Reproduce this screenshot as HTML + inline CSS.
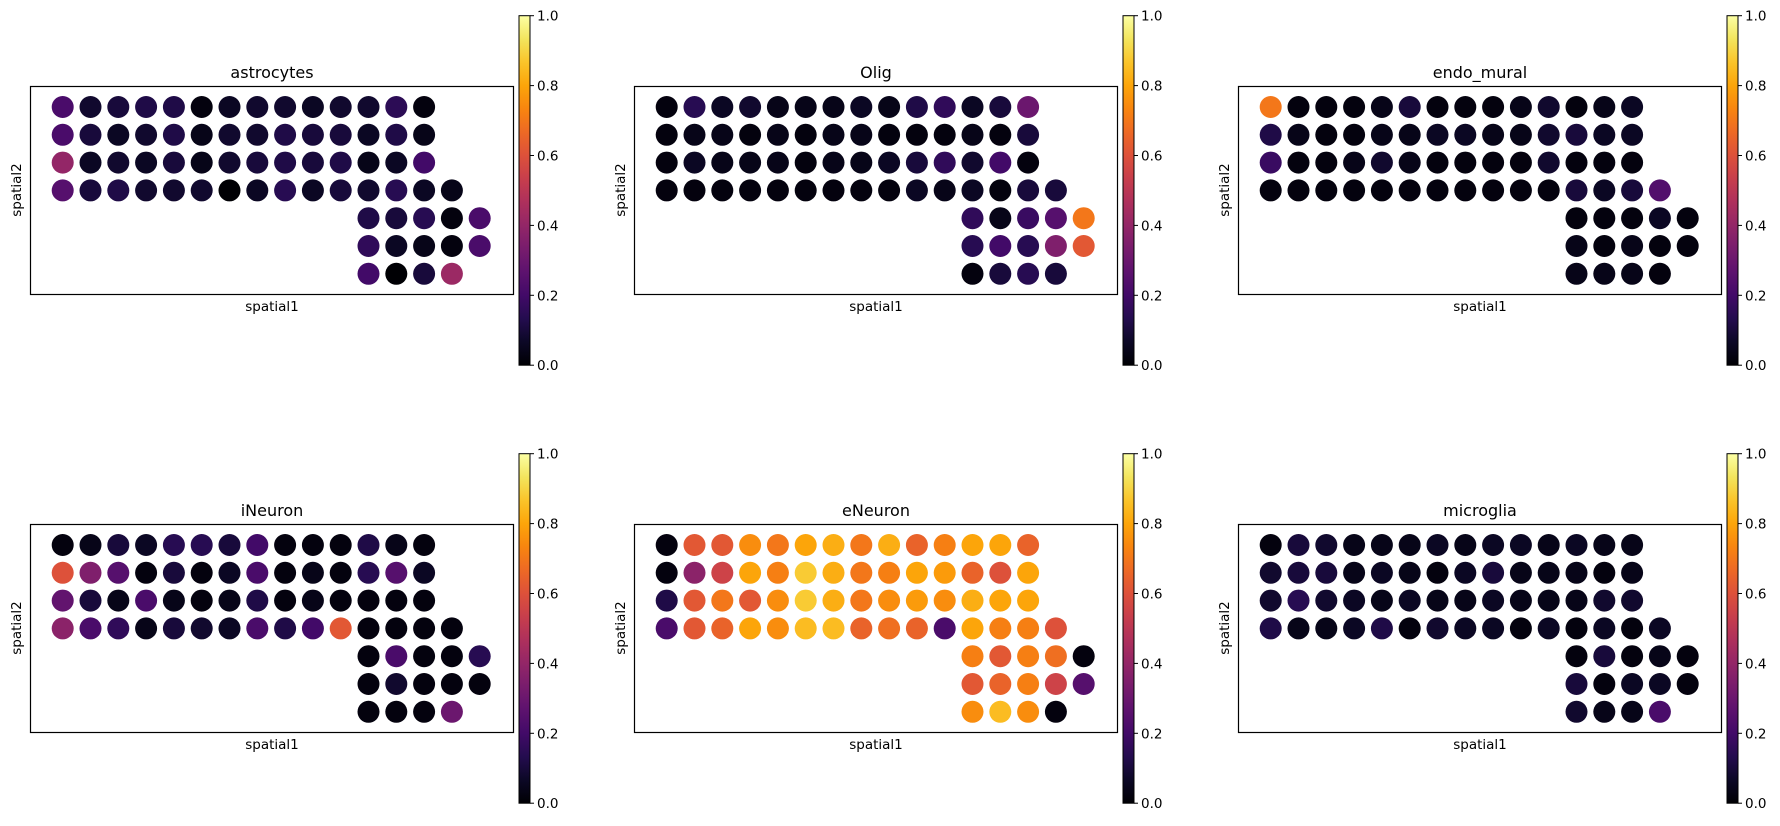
<!DOCTYPE html>
<html><head><meta charset="utf-8"><style>
html,body{margin:0;padding:0;background:#fff}
svg text{font-family:"DejaVu Sans","Liberation Sans",sans-serif;fill:#000}
</style></head><body>
<svg id="fig" width="1780" height="821" viewBox="0 0 1780 821" xmlns="http://www.w3.org/2000/svg"></svg>
<script>
// ---- data ----
const panelTitles = ["astrocytes","Olig","endo_mural","iNeuron","eNeuron","microglia"];
const rowStarts = [0,0,0,0,11,11,11];
const colorbarTicks = [0.0,0.2,0.4,0.6,0.8,1.0];
const tickLabels = ["0.0","0.2","0.4","0.6","0.8","1.0"];
const astrocytes = [
[0.22,0.08,0.1,0.12,0.12,0.02,0.06,0.08,0.08,0.06,0.08,0.08,0.15,0.02],
[0.22,0.1,0.06,0.08,0.12,0.04,0.08,0.08,0.12,0.1,0.1,0.06,0.12,0.04],
[0.4,0.06,0.08,0.06,0.1,0.04,0.08,0.1,0.12,0.1,0.12,0.04,0.06,0.2],
[0.25,0.1,0.12,0.08,0.08,0.08,0.0,0.06,0.14,0.06,0.1,0.08,0.14,0.06,0.04],
[0.12,0.1,0.14,0.02,0.22],
[0.16,0.06,0.04,0.02,0.22],
[0.2,0.0,0.1,0.42]];
const olig = [
[0.02,0.14,0.06,0.08,0.04,0.04,0.04,0.06,0.04,0.12,0.16,0.06,0.1,0.3],
[0.02,0.04,0.04,0.02,0.04,0.02,0.04,0.04,0.02,0.02,0.02,0.04,0.02,0.1],
[0.02,0.06,0.04,0.04,0.04,0.02,0.04,0.04,0.06,0.1,0.16,0.08,0.2,0.02],
[0.02,0.02,0.02,0.02,0.02,0.02,0.02,0.02,0.02,0.06,0.04,0.06,0.02,0.1,0.1],
[0.16,0.04,0.18,0.25,0.7],
[0.14,0.2,0.14,0.35,0.62],
[0.02,0.1,0.14,0.1]];
const endoMural = [
[0.7,0.02,0.02,0.02,0.04,0.1,0.02,0.02,0.02,0.04,0.08,0.02,0.04,0.06],
[0.12,0.04,0.02,0.02,0.04,0.04,0.06,0.06,0.04,0.04,0.08,0.1,0.06,0.06],
[0.18,0.02,0.02,0.04,0.08,0.04,0.02,0.02,0.02,0.02,0.08,0.02,0.02,0.02],
[0.02,0.02,0.02,0.02,0.02,0.02,0.02,0.02,0.02,0.02,0.02,0.1,0.06,0.1,0.24],
[0.02,0.02,0.02,0.06,0.02],
[0.04,0.02,0.04,0.02,0.02],
[0.04,0.04,0.04,0.02]];
const iNeuron = [
[0.02,0.04,0.1,0.06,0.14,0.14,0.1,0.2,0.02,0.02,0.02,0.12,0.04,0.02],
[0.6,0.35,0.25,0.02,0.1,0.02,0.06,0.22,0.02,0.04,0.02,0.14,0.25,0.06],
[0.28,0.1,0.04,0.22,0.04,0.02,0.04,0.12,0.02,0.04,0.02,0.02,0.02,0.02],
[0.38,0.22,0.16,0.04,0.1,0.08,0.06,0.22,0.12,0.2,0.62,0.02,0.02,0.02,0.02],
[0.02,0.22,0.02,0.02,0.14],
[0.02,0.08,0.02,0.02,0.02],
[0.02,0.02,0.02,0.3]];
const eNeuron = [
[0.02,0.62,0.62,0.75,0.7,0.8,0.82,0.7,0.82,0.65,0.72,0.8,0.8,0.65],
[0.02,0.38,0.55,0.8,0.72,0.88,0.82,0.7,0.72,0.8,0.78,0.65,0.6,0.8],
[0.12,0.62,0.7,0.62,0.75,0.88,0.82,0.7,0.75,0.78,0.75,0.82,0.8,0.8],
[0.22,0.62,0.65,0.8,0.75,0.85,0.85,0.65,0.68,0.65,0.22,0.8,0.72,0.72,0.6],
[0.72,0.62,0.72,0.68,0.02],
[0.62,0.65,0.72,0.55,0.25],
[0.75,0.85,0.75,0.02]];
const microglia = [
[0.02,0.1,0.08,0.04,0.04,0.04,0.06,0.04,0.06,0.06,0.04,0.06,0.04,0.04],
[0.08,0.1,0.1,0.04,0.06,0.04,0.02,0.06,0.1,0.04,0.04,0.04,0.02,0.04],
[0.08,0.14,0.08,0.06,0.04,0.06,0.04,0.04,0.06,0.04,0.04,0.04,0.08,0.08],
[0.12,0.04,0.04,0.06,0.12,0.02,0.08,0.06,0.06,0.02,0.06,0.02,0.06,0.02,0.06],
[0.02,0.1,0.02,0.04,0.02],
[0.1,0.02,0.06,0.06,0.02],
[0.08,0.04,0.04,0.22]];
const panelValues = [astrocytes, olig, endoMural, iNeuron, eNeuron, microglia];

// ---- colormap (inferno) ----
const inf = ["#000004","#0c0826","#240c4f","#420a68","#5d126e","#781c6d","#932667","#ae305c","#c73e4c","#dd513a","#ed6925","#f8850f","#fca50a","#fac42a","#f3e55d","#fcffa4"];
function hex(h){return [1,3,5].map(i=>parseInt(h.substr(i,2),16));}
function cmap(v){v=Math.max(0,Math.min(1,v));const p=v*(inf.length-1);const i=Math.min(Math.floor(p),inf.length-2);const t=p-i;const a=hex(inf[i]),b=hex(inf[i+1]);return "rgb("+a.map((x,k)=>Math.round(x+(b[k]-x)*t)).join(",")+")";}

const NS="http://www.w3.org/2000/svg";
const svg=document.getElementById("fig");
function mk(tag,attrs,parent){const e=document.createElementNS(NS,tag);for(const k in attrs)e.setAttribute(k,attrs[k]);(parent||svg).appendChild(e);return e;}

const defs=mk("defs",{});
const grad=mk("linearGradient",{id:"infg",x1:"0",y1:"1",x2:"0",y2:"0"},defs);
inf.forEach((c,i)=>mk("stop",{offset:(i/(inf.length-1)),"stop-color":c},grad));

panelTitles.forEach((title,p)=>{
  const ox=(p%3)*604, oy=Math.floor(p/3)*438;
  const g=mk("g",{transform:"translate("+ox+","+oy+")"});
  
  
  const xScale=c=>62.7+c*27.8;
  const yScale=r=>107+r*27.8;
  const box=mk("rect",{x:30.5,y:86.5,width:483,height:208,fill:"none",stroke:"#000","stroke-width":1.2},g);
  
  
  const vals=panelValues[p];
  vals.forEach((row,r)=>{row.forEach((v,i)=>{
    const c=mk("circle",{cx:xScale(rowStarts[r]+i),cy:yScale(r),r:11,fill:cmap(v)},g);
    
    
  });});
  const t=mk("text",{x:272,y:78,"font-size":16,"text-anchor":"middle"},g);t.textContent=title;
  
  
  const xl=mk("text",{x:272,y:311,"font-size":13.5,"text-anchor":"middle"},g);xl.textContent="spatial1";
  
  
  const yl=mk("text",{x:21,y:190,"font-size":13.5,"text-anchor":"middle",transform:"rotate(-90 21 190)"},g);yl.textContent="spatial2";
  
  
  const cb=mk("rect",{x:519,y:15.7,width:11,height:349.5,fill:"url(#infg)",stroke:"#000","stroke-width":1},g);
  
  
  const cbY=v=>365.2-v*349.5;
  colorbarTicks.forEach((v,k)=>{
    mk("line",{x1:530,x2:534,y1:cbY(v),y2:cbY(v),stroke:"#000","stroke-width":1},g);
    const tl=mk("text",{x:537,y:cbY(v)+5,"font-size":13.5},g);tl.textContent=tickLabels[k];
    
    
  });
});
</script>
</body></html>
